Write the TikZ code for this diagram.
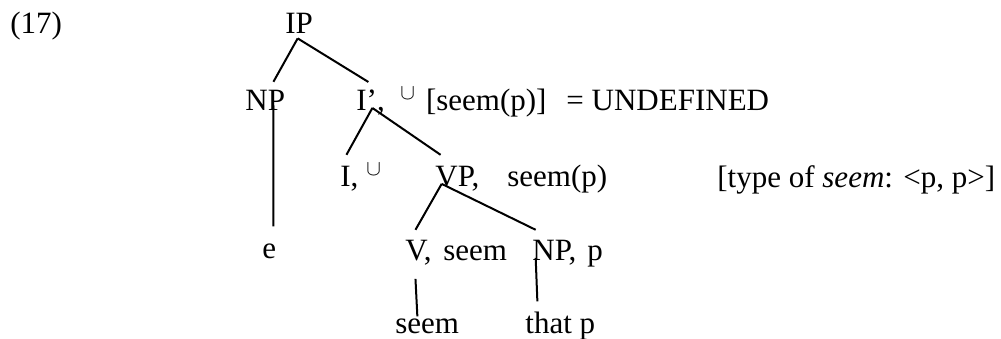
\documentclass[tikz,border=0pt]{standalone}
\usepackage{fontspec}
\setmainfont{Liberation Serif}
\usepackage{tikz}
\usetikzlibrary{positioning}
\tikzset{
  cat/.style={inner sep=0pt, anchor=base west, font=\fontsize{15.5}{18}\selectfont},
  note/.style={inner sep=0pt, anchor=base west, font=\fontsize{15.5}{18}\selectfont},
  branch/.style={line width=1pt, black}
}

\begin{document}
\begin{tikzpicture}[x=0.5pt, y=0.5pt]
  \useasboundingbox (0,0) rectangle (1001,-338);

  % Example number
  \node[note] (exnum) at (10,-33) {(17)};

  % Tree nodes
  \node[cat] (IP) at (285,-33) {IP};
  \node[cat] (NPa) at (245,-110) {NP};
  \node[cat] (Ibar) at (356,-110) {I’,};
  \node[cat] (e) at (262,-258) {e};
  \node[cat] (I) at (340,-186) {I,};
  \node[cat] (VP) at (435,-186) {VP,};
  \node[cat] (V) at (405,-260) {V,};
  \node[cat] (NPb) at (532,-260) {NP,};
  \node[cat] (seem) at (395,-333) {seem};
  \node[cat] (thatp) at (525,-333) {that p};

  % Semantic values
  \node[note] (IbarVal) at (400,-110) {$^{\cup}$\hspace{5pt}[seem(p)]\hspace{10pt}= UNDEFINED};
  \node[note] (IVal) at (366,-186) {$^{\cup}$};
  \node[note] (VPVal) at (507,-186) {seem(p)};
  \node[note] (VVal) at (443,-260) {seem};
  \node[note] (NPbVal) at (587,-260) {p};
  \node[note] (typenote) at (717,-187) {[type of \textit{seem}: <p, p>]};

  % Branches
  \draw[branch] ([xshift=-0.75pt,yshift=-2.5pt]IP.south) -- ([xshift=4.1pt,yshift=3.75pt]NPa.north);
  \draw[branch] ([xshift=-0.75pt,yshift=-2.5pt]IP.south) -- ([xshift=-1.1pt,yshift=3.5pt]Ibar.north);
  \draw[branch] ([xshift=4.1pt,yshift=2.5pt]NPa.south) -- ([xshift=2pt,yshift=8.3pt]e.north);
  \draw[branch] ([xshift=0.9pt,yshift=3.6pt]Ibar.south) -- ([xshift=-1.5pt,yshift=5.25pt]I.north);
  \draw[branch] ([xshift=0.9pt,yshift=3.6pt]Ibar.south) -- ([xshift=-8.4pt,yshift=5.25pt]VP.north);
  \draw[branch] ([xshift=-7.85pt,yshift=3.65pt]VP.south) -- ([xshift=-1.5pt,yshift=4.75pt]V.north);
  \draw[branch] ([xshift=-7.85pt,yshift=3.65pt]VP.south) -- ([xshift=-9.35pt,yshift=4.75pt]NPb.north);
  \draw[branch] ([xshift=-1.5pt,yshift=-6.85pt]V.south) -- ([xshift=-4.95pt,yshift=0.85pt]seem.north);
  \draw[branch] ([xshift=-9.35pt,yshift=3.65pt]NPb.south) -- ([xshift=-11.45pt,yshift=4.9pt]thatp.north);
\end{tikzpicture}
\end{document}
